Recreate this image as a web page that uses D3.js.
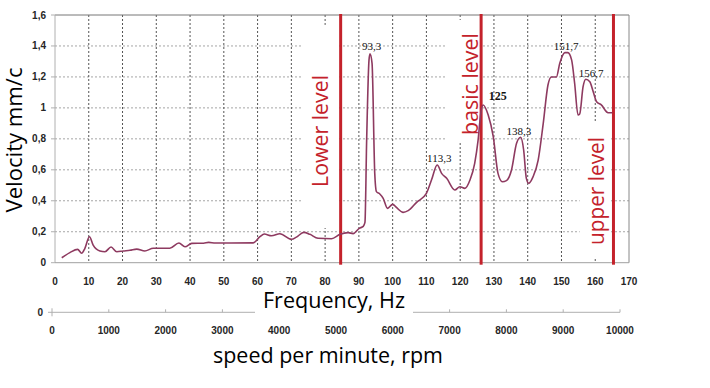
<!DOCTYPE html>
<html><head><meta charset="utf-8">
<script src="https://cdn.jsdelivr.net/npm/d3@7"></script>
<style>body{margin:0;background:#fff}svg{display:block}</style>
</head><body><svg id="c" width="710" height="388"></svg>
<script>
// ---------- data ----------
const freq = [2.0,4.4,6.7,7.9,8.8,10.2,11.3,13.3,14.8,16.6,18.3,20.2,22.2,24.2,26.6,29.1,34.0,36.7,38.5,40.5,44.0,45.5,47.5,58.7,
  60.7,62.0,64.1,66.6,70.1,71.5,73.7,75.5,77.9,81.9,84.4,86.8,88.3,90.1,91.3,91.8,92.3,93.0,93.3,93.9,94.7,95.2,96.2,97.2,98.5,
  100.0,101.2,103.1,104.6,107.1,110.0,111.5,113.2,114.5,116.0,118.4,119.9,121.4,122.9,124.3,125.3,126.1,126.8,128.3,129.8,
  131.2,132.5,133.7,135.2,136.7,137.9,138.8,139.6,140.3,141.6,143.1,144.6,146.0,147.0,148.5,149.5,151.0,151.9,153.0,153.9,
  154.9,155.4,156.4,157.2,158.4,159.4,160.4,161.8,163.8,165.1];
const velocity = [0.032,0.065,0.086,0.061,0.090,0.168,0.114,0.076,0.071,0.101,0.071,0.076,0.080,0.088,0.076,0.093,0.093,0.127,0.103,0.125,0.126,0.131,0.127,0.128,
  0.168,0.185,0.174,0.187,0.151,0.165,0.196,0.183,0.158,0.155,0.183,0.194,0.188,0.222,0.235,0.260,0.790,1.310,1.350,1.288,0.577,0.459,0.444,0.416,0.351,
  0.377,0.355,0.325,0.336,0.390,0.448,0.534,0.631,0.577,0.545,0.470,0.491,0.480,0.534,0.642,0.790,0.965,1.019,0.954,0.814,
  0.577,0.523,0.530,0.599,0.771,0.810,0.728,0.545,0.513,0.556,0.663,0.900,1.148,1.200,1.200,1.288,1.357,1.357,1.310,1.159,
  0.954,0.960,1.137,1.185,1.169,1.105,1.040,1.019,0.969,0.969];

const xTicks = [0,10,20,30,40,50,60,70,80,90,100,110,120,130,140,150,160,170];
const yTicks = [0,0.2,0.4,0.6,0.8,1,1.2,1.4,1.6];
const yTickLabels = ["0","0,2","0,4","0,6","0,8","1","1,2","1,4","1,6"];
const rpmTicks = [0,1000,2000,3000,4000,5000,6000,7000,8000,9000,10000];

const levelNames = ["Lower level","basic level","upper level"];
const levelFreqs = [84.6,126.2,165.4];
const levelTextF = [80.8,125.2,162.7];
const levelTextV = [0.851,1.154,0.463];

const peakLabels = ["93,3","113,3","125","138,3","151,7","156,7"];
const peakLabelF = [93.75,113.8,131.1,137.4,151.4,158.8];
const peakLabelV = [1.374,0.650,1.051,0.825,1.374,1.200];

const xTitle = "Frequency, Hz";
const yTitle = "Velocity mm/c";
const rpmTitle = "speed per minute, rpm";

// ---------- drawing ----------
const svg = d3.select("#c");
const L = 55, R = 629, T = 15, B = 262.7;
const x = d3.scaleLinear().domain([0,170]).range([L,R]);
const y = d3.scaleLinear().domain([0,1.6]).range([B,T]);
const xr = d3.scaleLinear().domain([0,10000]).range([52,620]);
const tickFont = "'Liberation Sans', Arial, sans-serif";
const bigFont = "'Open Sans', 'Noto Sans', sans-serif";
const red = "#c4222b";
const tickColor = "#262626";

// gridlines
svg.append("g").selectAll("line").data(yTicks.filter(v => v > 0 && v < 1.6)).join("line")
  .attr("x1", L).attr("x2", R).attr("y1", d => y(d)).attr("y2", d => y(d))
  .attr("stroke", "#a6a6a6").attr("stroke-width", 1).attr("stroke-dasharray", "2,2");
svg.append("g").selectAll("line").data(xTicks.filter(v => v > 0 && v < 170)).join("line")
  .attr("y1", T).attr("y2", B).attr("x1", d => x(d)).attr("x2", d => x(d))
  .attr("stroke", "#555").attr("stroke-width", 1).attr("stroke-dasharray", "2,2");

// frame
svg.append("line").attr("x1", L).attr("x2", R).attr("y1", T).attr("y2", T).attr("stroke", "#777");
svg.append("line").attr("x1", R).attr("x2", R).attr("y1", T).attr("y2", B).attr("stroke", "#888");
svg.append("line").attr("x1", L).attr("x2", L).attr("y1", T).attr("y2", B).attr("stroke", "#b0b0b0");
svg.append("line").attr("x1", L).attr("x2", R).attr("y1", B).attr("y2", B).attr("stroke", "#a0a0a0");

// y tick labels
svg.append("g").selectAll("text").data(yTicks).join("text")
  .attr("x", 46).attr("y", d => y(d)).attr("dy", "0.35em").attr("text-anchor", "end")
  .attr("font-family", tickFont).attr("font-weight", "bold").attr("font-size", 10).attr("fill", tickColor)
  .text((d, i) => yTickLabels[i]);
svg.append("g").selectAll("line").data(yTicks).join("line")
  .attr("x1", L - 4).attr("x2", L).attr("y1", d => y(d)).attr("y2", d => y(d)).attr("stroke", "#b0b0b0");

// x tick labels
svg.append("g").selectAll("text").data(xTicks).join("text")
  .attr("x", d => x(d)).attr("y", 285).attr("text-anchor", "middle")
  .attr("font-family", tickFont).attr("font-weight", "bold").attr("font-size", 10).attr("fill", tickColor)
  .text(d => d);

// white text boxes behind level labels (data units)
const textBoxes = [[73.4,84.1,0.224,1.536],[116.0,125.8,0.773,1.568],[155.4,164.6,0.037,0.909]];
svg.append("g").selectAll("rect").data(textBoxes).join("rect")
  .attr("x", d => x(d[0])).attr("width", d => x(d[1]) - x(d[0]))
  .attr("y", d => y(d[3])).attr("height", d => y(d[2]) - y(d[3]))
  .attr("fill", "#fff");

// level lines
svg.append("g").selectAll("line").data(levelFreqs).join("line")
  .attr("x1", d => x(d)).attr("x2", d => x(d)).attr("y1", T - 1).attr("y2", B + 2)
  .attr("stroke", red).attr("stroke-width", 3);

// level texts
svg.append("g").selectAll("text").data(levelNames).join("text")
  .attr("transform", (d, i) => `translate(${x(levelTextF[i])},${y(levelTextV[i])}) rotate(-90)`)
  .attr("text-anchor", "middle").attr("font-family", bigFont).attr("font-size", 21).attr("fill", red)
  .attr("textLength", (d, i) => [112, 102, 108][i]).attr("lengthAdjust", "spacingAndGlyphs")
  .text(d => d);

// curve
const pts = freq.map((f, i) => [f, velocity[i]]);
svg.append("path").datum(pts)
  .attr("d", d3.line().x(d => x(d[0])).y(d => y(d[1])).curve(d3.curveMonotoneX))
  .attr("fill", "none").attr("stroke", "#8e3a60").attr("stroke-width", 1.6);

// peak labels
svg.append("g").selectAll("text").data(peakLabels).join("text")
  .attr("x", (d, i) => x(peakLabelF[i])).attr("y", (d, i) => y(peakLabelV[i]))
  .attr("text-anchor", "middle").attr("font-family", "'Liberation Serif', 'Times New Roman', serif")
  .attr("font-size", d => d === "125" ? 12 : 11).attr("font-weight", d => d === "125" ? "bold" : "normal")
  .attr("fill", "#111").text(d => d);

// y title
svg.append("text").attr("transform", `translate(22,140) rotate(-90)`)
  .attr("text-anchor", "middle").attr("font-family", bigFont).attr("font-size", 21).attr("fill", "#000")
  .attr("textLength", 145).attr("lengthAdjust", "spacingAndGlyphs").text(yTitle);

// secondary rpm axis
const RY = 312.3;
svg.append("line").attr("x1", xr(0)).attr("x2", xr(10000)).attr("y1", RY).attr("y2", RY).attr("stroke", "#b0b0b0");
svg.append("line").attr("x1", xr(0)).attr("x2", xr(0)).attr("y1", RY - 4).attr("y2", RY + 4).attr("stroke", "#b0b0b0");
svg.append("line").attr("x1", xr(0) - 4).attr("x2", xr(0)).attr("y1", RY).attr("y2", RY).attr("stroke", "#b0b0b0");
svg.append("g").selectAll("line").data(rpmTicks.slice(1)).join("line")
  .attr("x1", d => xr(d)).attr("x2", d => xr(d)).attr("y1", RY - 3).attr("y2", RY).attr("stroke", "#b0b0b0");
svg.append("text").attr("x", 43).attr("y", RY).attr("dy", "0.35em").attr("text-anchor", "end")
  .attr("font-family", tickFont).attr("font-weight", "bold").attr("font-size", 10).attr("fill", tickColor).text("0");
svg.append("g").selectAll("text").data(rpmTicks).join("text")
  .attr("x", d => xr(d)).attr("y", 334).attr("text-anchor", "middle")
  .attr("font-family", tickFont).attr("font-weight", "bold").attr("font-size", 10).attr("fill", tickColor)
  .text(d => d);

// x title with white box covering the rpm axis line
svg.append("rect").attr("x", 255).attr("y", 288).attr("width", 158).attr("height", 28).attr("fill", "#fff");
svg.append("text").attr("x", 263).attr("y", 308.3).attr("font-family", bigFont).attr("font-size", 21)
  .attr("fill", "#000").attr("textLength", 142).attr("lengthAdjust", "spacingAndGlyphs").text(xTitle);

// rpm title
svg.append("text").attr("x", 213).attr("y", 363).attr("font-family", bigFont).attr("font-size", 21)
  .attr("fill", "#000").attr("textLength", 230).attr("lengthAdjust", "spacingAndGlyphs").text(rpmTitle);
</script>
</body></html>
